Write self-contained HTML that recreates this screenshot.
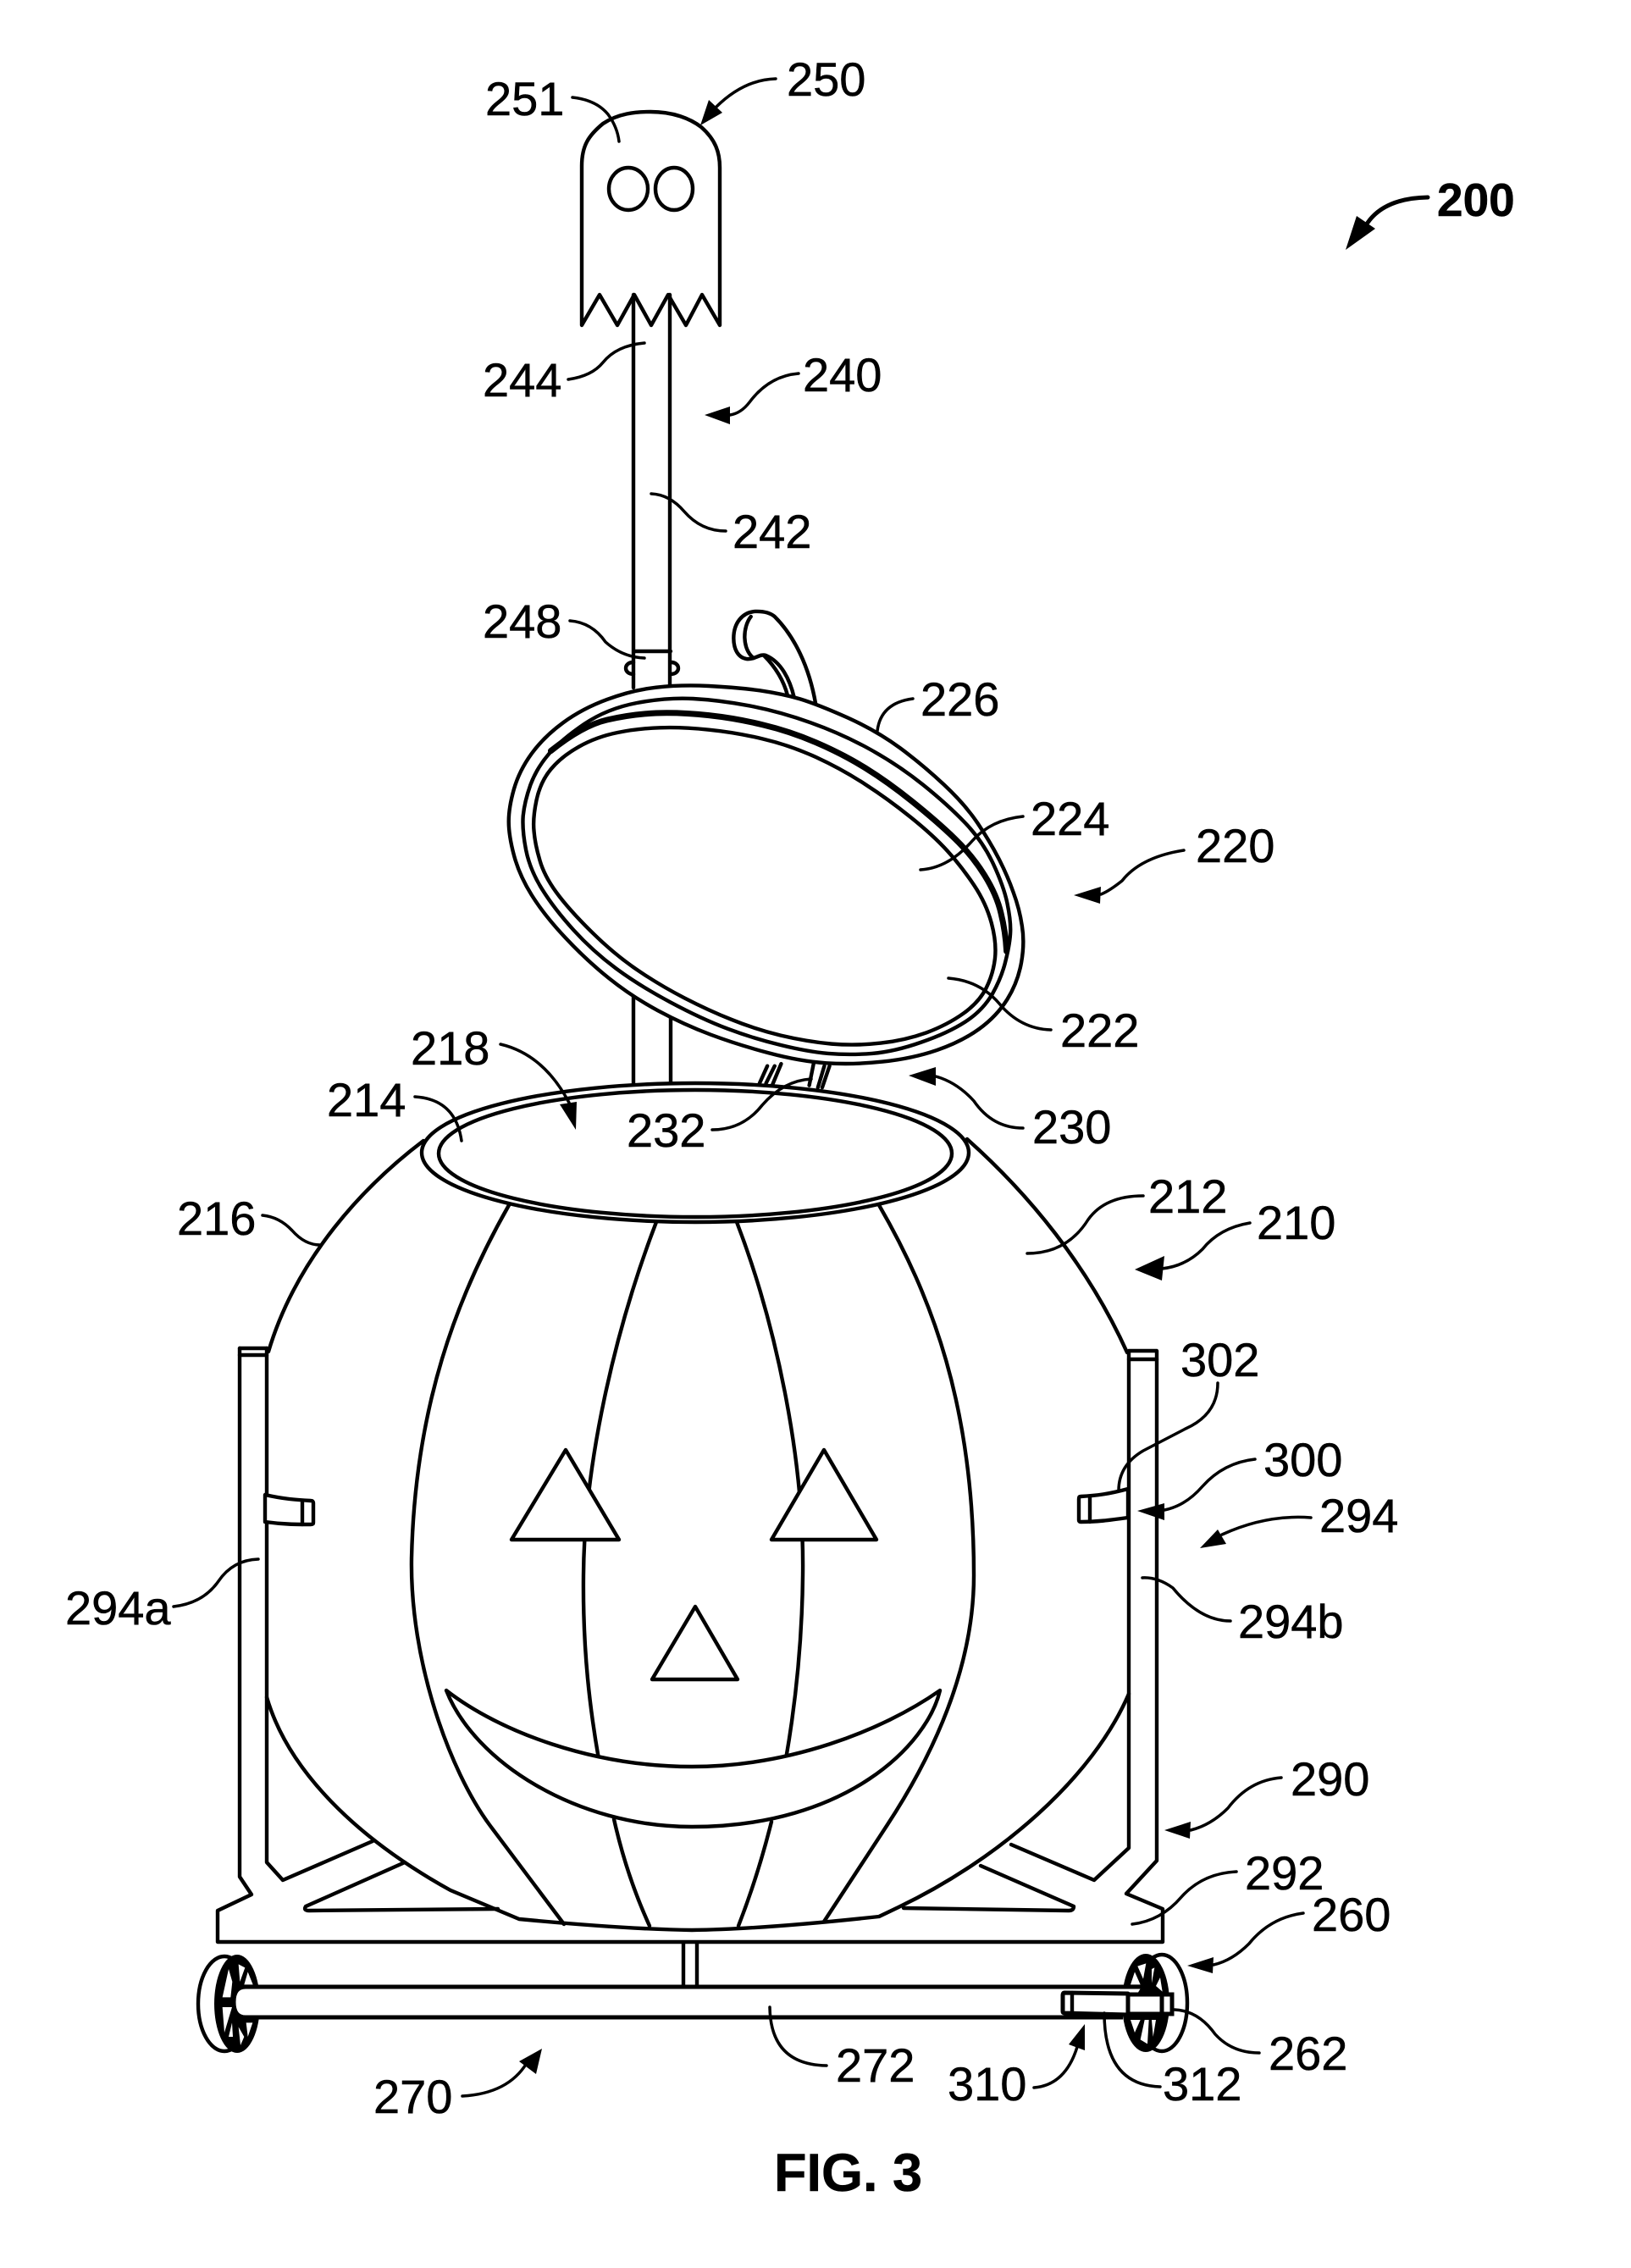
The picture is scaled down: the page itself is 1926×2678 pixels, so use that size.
<!DOCTYPE html>
<html><head><meta charset="utf-8"><style>
html,body{margin:0;padding:0;background:#fff}
svg{display:block}
text{font-family:"Liberation Sans",sans-serif;font-size:56px;fill:#000;stroke:#000;stroke-width:.5}
.m{fill:none;stroke:#000;stroke-width:4.4;stroke-linejoin:round;stroke-linecap:round}
.w{fill:#fff;stroke:#000;stroke-width:4.4;stroke-linejoin:round;stroke-linecap:round}
.l{fill:none;stroke:#000;stroke-width:3.5;stroke-linecap:round}
.v{vector-effect:non-scaling-stroke}
</style></head><body>
<svg width="1926" height="2678" viewBox="0 0 1926 2678" xmlns="http://www.w3.org/2000/svg">
<rect width="1926" height="2678" fill="#fff"/>

<!-- ghost -->
<path class="m" d="M687 384V196C687 172 695 160 712 146C730 134 750 132 768 132C795 132 815 140 828 150C845 165 850 180 850 198V384L829 348L810 384L789 348L769 384L749 348L729 384L708 348Z"/>
<ellipse class="m" cx="742" cy="223" rx="23" ry="25"/>
<ellipse class="m" cx="796" cy="223" rx="22" ry="25"/>

<!-- pole -->
<path class="m" d="M748 348V812M791 348V812M748 769H792"/>
<path class="m" d="M748 782C736 782 736 796 748 796M792 782C804 782 804 796 792 796"/>
<path class="m" d="M748 1170V1279M792 1195V1279"/>

<!-- handle, hinge -->
<g transform="translate(550 700) scale(.5102)">
<path class="w v" d="M810 258C795 170 760 100 715 55Q700 42 670 43C640 45 620 70 620 105C620 130 630 150 650 153C670 155 680 140 695 145C730 160 750 200 760 242"/>
<path class="m v" d="M660 55C640 80 640 130 665 150M690 145C715 170 735 200 745 238"/>
<path class="m v" d="M680 1135L698 1095M695 1135L715 1095M710 1138L730 1090M795 1140L805 1090M815 1145L830 1095M825 1145L842 1095"/>
</g>

<!-- lid -->
<g transform="translate(580 780) scale(.4146 .3333)">
<path class="w v" d="M620 90Q700 95 765 106Q830 118 880 136Q930 155 1015 202Q1100 250 1165 310Q1230 370 1290 440Q1350 510 1385 575Q1420 640 1445 700Q1470 760 1487 820Q1505 880 1512 940Q1520 1000 1510 1070Q1500 1140 1470 1200Q1440 1260 1390 1305Q1340 1350 1270 1380Q1200 1410 1115 1421Q1030 1432 955 1426Q880 1420 790 1390Q700 1360 625 1325Q550 1290 475 1240Q400 1190 335 1125Q270 1060 210 980Q150 900 115 830Q80 760 65 690Q50 620 50 570Q50 520 65 455Q80 390 115 330Q150 270 205 220Q260 170 330 138Q400 105 470 95Q540 85 620 90Z"/>
<path class="m v" d="M575 135Q650 140 735 160Q820 180 910 220Q1000 260 1080 315Q1160 370 1230 440Q1300 510 1350 575Q1400 640 1430 720Q1460 800 1470 860Q1480 920 1479 960Q1478 1000 1466 1060Q1455 1120 1428 1180Q1400 1240 1350 1280Q1300 1320 1225 1352Q1150 1385 1085 1392Q1020 1398 960 1392Q900 1385 825 1362Q750 1340 675 1305Q600 1270 510 1210Q420 1150 355 1090Q290 1030 235 955Q180 880 145 810Q110 740 99 670Q88 600 91 550Q95 500 112 440Q130 380 165 330Q200 280 265 225Q330 170 415 150Q500 130 575 135Z"/>
<path class="m v" d="M620 245Q700 255 775 278Q850 300 925 342Q1000 385 1065 438Q1130 490 1195 555Q1260 620 1300 675Q1340 730 1375 795Q1410 860 1425 930Q1440 1000 1435 1055Q1430 1110 1410 1160Q1390 1210 1345 1250Q1300 1290 1240 1318Q1180 1345 1110 1355Q1040 1365 970 1358Q900 1350 825 1328Q750 1305 685 1272Q620 1240 550 1195Q480 1150 415 1095Q350 1040 285 960Q220 880 185 820Q150 760 138 705Q125 650 122 605Q118 560 129 495Q140 430 170 385Q200 340 250 305Q300 270 360 255Q420 240 480 238Q540 235 620 245Z"/>
<path class="m v" style="stroke-width:7" d="M170 320Q260 230 330 210Q400 190 470 186Q540 183 620 194Q700 205 775 228Q850 250 925 290Q1000 330 1065 380Q1130 430 1200 500Q1270 570 1320 630Q1370 690 1405 760Q1440 830 1452 895Q1465 960 1468 1030"/>
</g>

<!-- body -->
<path class="m" d="M500 1347C430 1400 350 1485 317 1596"/>
<path class="m" d="M1142 1345C1215 1410 1285 1495 1331 1597"/>
<path class="m" d="M315 2004C340 2090 420 2170 532 2232L613 2266Q740 2278 817 2279Q900 2278 1038 2263L1061 2252C1180 2195 1290 2100 1333 2000"/>

<!-- ribs -->
<path class="m" d="M601 1423C540 1530 490 1660 486 1840C484 1960 530 2090 579 2156L666 2272"/>
<path class="m" d="M1038 1423C1100 1530 1150 1660 1150 1860C1150 1960 1110 2060 1047 2156L973 2269"/>
<path class="m" d="M775 1443C730 1560 690 1720 689 1860C688 1950 697 2020 707 2077"/>
<path class="m" d="M725 2148Q740 2215 767 2274"/>
<path class="m" d="M870 1443C915 1560 950 1720 948 1860C947 1950 938 2020 928 2077"/>
<path class="m" d="M911 2151Q895 2215 872 2274"/>

<!-- face -->
<path class="w" d="M668 1712L604 1818H731Z"/>
<path class="w" d="M973 1712L911 1818H1035Z"/>
<path class="w" d="M821 1897L770 1983H871Z"/>
<path class="w" d="M527 1996C590 2045 700 2086 817 2086C930 2086 1040 2045 1110 1996C1095 2060 1000 2157 817 2157C680 2157 560 2080 527 1996Z"/>

<!-- opening -->
<ellipse class="w" cx="821" cy="1361" rx="323" ry="82"/>
<ellipse class="m" cx="821" cy="1362" rx="303" ry="75"/>

<!-- frame -->
<path class="m" d="M283 1592V2216L297 2237L257 2256V2293H1373V2254L1330 2236L1366 2197V1595H1333V2182L1292 2220L1194 2178"/>
<path class="m" d="M315 1592V2199L334 2220L440 2174M478 2199L361 2251Q358 2256 365 2256L588 2254"/>
<path class="m" d="M283 1592H315M283 1600H315M1333 1605H1366"/>
<path class="m" d="M1158 2203L1268 2251Q1268 2256 1262 2256L1067 2253"/>

<!-- brackets -->
<path class="w" d="M1332 1758C1310 1764 1295 1766 1276 1767Q1274 1767 1274 1770V1795Q1274 1797 1276 1797C1295 1797 1310 1795 1332 1792Z"/>
<path class="m" d="M1287 1767V1797"/>
<path class="w" d="M313 1765C335 1770 350 1771 367 1772Q370 1772 370 1775V1798Q370 1800 367 1800C350 1800 335 1800 313 1797Z"/>
<path class="m" d="M357 1772V1800"/>

<!-- wheels -->
<ellipse class="w" cx="265" cy="2366" rx="31" ry="56"/>
<ellipse cx="280" cy="2366" rx="27" ry="58" fill="#000"/>
<g transform="translate(220 2290) scale(.3333)" fill="#fff">
<polygon points="150,105 163,150 157,205 128,205"/>
<polygon points="185,88 208,100 190,150"/>
<polygon points="218,115 236,160 205,160"/>
<polygon points="128,240 162,240 135,330"/>
<polygon points="150,345 162,295 165,345"/>
<polygon points="185,310 205,345 192,375"/>
<polygon points="212,295 235,295 218,345"/>
</g>
<ellipse class="w" cx="1372" cy="2365" rx="30" ry="57"/>
<ellipse cx="1353" cy="2365" rx="28" ry="58" fill="#000"/>
<g transform="translate(1240 2290) scale(.3333)" fill="#fff">
<polygon points="310,95 340,85 330,140"/>
<polygon points="360,105 370,100 360,155"/>
<polygon points="285,160 300,115 320,160"/>
<polygon points="375,165 390,135 398,185"/>
<polygon points="285,285 320,285 300,330"/>
<polygon points="335,285 350,285 345,370 320,355"/>
<polygon points="360,285 375,285 365,345"/>
</g>

<!-- axle and post -->
<path class="m" d="M807 2294V2346M823 2294V2346"/>
<path d="M1348 2346H290Q276 2346 276 2364Q276 2382 290 2382H1326" fill="#fff" stroke="#000" stroke-width="5"/>

<!-- 310 bracket -->
<path fill="#fff" stroke="#000" stroke-width="5" stroke-linejoin="round" d="M1332 2354L1257 2353Q1255 2353 1255 2356V2375Q1255 2377 1257 2377L1332 2379Z"/>
<path class="m" d="M1266 2353V2377"/>
<rect x="1332" y="2355" width="40" height="23" fill="#fff" stroke="#000" stroke-width="5"/>
<rect x="1372" y="2355" width="12" height="23" fill="#fff" stroke="#000" stroke-width="5"/>

<!-- leaders -->
<path class="l" d="M676 115Q704 118 718 135Q729 150 731 167"/>
<path class="l" d="M671 448Q699 444 712 428Q728 408 761 405"/>
<path class="l" d="M769 583Q791 584 808 604Q828 627 857 627"/>
<path class="l" d="M673 733Q699 735 715 758Q735 776 761 777"/>
<path class="l" d="M1078 825Q1040 830 1036 863"/>
<path class="l" d="M1208 964Q1170 968 1148 993Q1120 1025 1087 1027"/>
<path class="l" d="M1120 1155Q1157 1158 1180 1185Q1205 1215 1241 1216"/>
<path class="l" d="M841 1334Q877 1334 900 1305Q925 1276 958 1274"/>
<path class="l" d="M1350 1412Q1305 1412 1285 1440Q1260 1480 1213 1480"/>
<path class="l" d="M490 1295Q538 1298 545 1347"/>
<path class="l" d="M310 1435Q330 1437 345 1453Q360 1470 378 1470"/>
<path class="l" d="M205 1897Q240 1893 258 1867Q275 1842 305 1841"/>
<path class="l" d="M1438 1633Q1438 1670 1400 1687L1350 1713Q1321 1730 1321 1760"/>
<path class="l" d="M1349 1863Q1367 1862 1385 1875Q1417 1914 1453 1914"/>
<path class="l" d="M1337 2272Q1371 2268 1395 2240Q1420 2212 1460 2210"/>
<path class="l" d="M1387 2373Q1415 2374 1435 2402Q1455 2424 1487 2424"/>
<path class="l" d="M1304 2377Q1304 2462 1370 2464"/>
<path class="l" d="M909 2370Q910 2438 976 2439"/>

<!-- arrows -->
<path class="l" d="M916 93Q878 94 845 127"/><path d="M827 148L837 118L853 133Z"/>
<path class="l" d="M943 441Q908 444 885 475Q875 488 862 490"/><path d="M832 490L862 480L862 501Z"/>
<path class="l" d="M1398 1004Q1347 1012 1325 1040Q1310 1052 1300 1056"/><path d="M1268 1057L1300 1047L1299 1067Z"/>
<path class="l" d="M1208 1332Q1172 1332 1150 1300Q1130 1278 1105 1271"/><path d="M1073 1270L1105 1260L1105 1282Z"/>
<path class="l" d="M591 1233Q642 1245 672 1302"/><path d="M680 1334L661 1304L681 1301Z"/>
<path class="l" d="M1476 1444Q1440 1450 1420 1475Q1400 1495 1372 1498"/><path d="M1340 1499L1375 1483L1372 1512Z"/>
<path class="l" d="M1482 1723Q1445 1727 1420 1755Q1400 1778 1375 1783"/><path d="M1343 1784L1375 1775L1375 1795Z"/>
<path class="l" d="M1548 1792Q1495 1788 1443 1812"/><path d="M1417 1828L1438 1806L1448 1823Z"/>
<path class="l" d="M1513 2099Q1475 2102 1450 2135Q1430 2155 1406 2161"/><path d="M1375 2161L1406 2151L1405 2171Z"/>
<path class="l" d="M1539 2259Q1500 2264 1475 2295Q1455 2315 1433 2320"/><path d="M1402 2321L1433 2311L1432 2330Z"/>
<path class="l" d="M1221 2465Q1258 2462 1272 2417"/><path d="M1281 2390L1262 2414L1281 2421Z"/>
<path class="l" d="M546 2475Q600 2472 622 2436"/><path d="M640 2419L613 2434L633 2449Z"/>
<path class="l" style="stroke-width:5" d="M1686 233Q1635 234 1615 263"/><path d="M1589 295L1602 255L1624 270Z"/>

<!-- labels -->
<g transform="translate(-1 0)">
<text x="930" y="113">250</text>
<text x="574" y="136">251</text>
<text x="571" y="468">244</text>
<text x="949" y="462">240</text>
<text x="866" y="647">242</text>
<text x="571" y="753">248</text>
<text x="1088" y="845">226</text>
<text x="1218" y="986">224</text>
<text x="1413" y="1018">220</text>
<text x="1253" y="1236">222</text>
<text x="1220" y="1350">230</text>
<text x="741" y="1354">232</text>
<text x="486" y="1257">218</text>
<text x="387" y="1318">214</text>
<text x="210" y="1458">216</text>
<text x="1357" y="1432">212</text>
<text x="1485" y="1463">210</text>
<text x="1395" y="1625">302</text>
<text x="1493" y="1743">300</text>
<text x="1559" y="1809">294</text>
<text x="1463" y="1934">294b</text>
<text x="78" y="1918">294a</text>
<text x="1525" y="2120">290</text>
<text x="1471" y="2231">292</text>
<text x="1550" y="2280">260</text>
<text x="1499" y="2444">262</text>
<text x="1374" y="2480">312</text>
<text x="1120" y="2480">310</text>
<text x="988" y="2458">272</text>
<text x="442" y="2495">270</text>
</g>
<text x="1697" y="255" font-weight="bold" style="font-weight:bold;font-size:55px">200</text>
<text x="914" y="2587" style="font-weight:bold;font-size:63px">FIG. 3</text>
</svg>
</body></html>
